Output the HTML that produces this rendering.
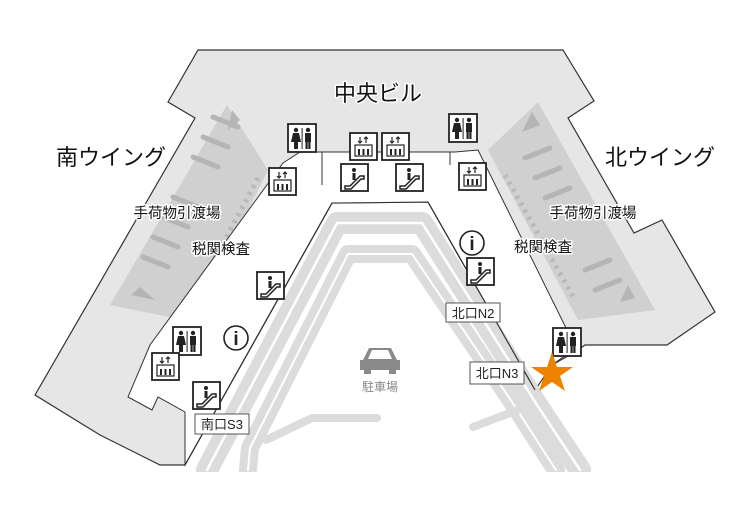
<!DOCTYPE html>
<html><head><meta charset="utf-8"><style>
html,body{margin:0;padding:0;background:#fff;}
svg{display:block;}
text{font-family:"Liberation Sans","Noto Sans CJK JP",sans-serif;}
</style></head><body>
<svg width="750" height="525" viewBox="0 0 750 525" xmlns="http://www.w3.org/2000/svg">
<defs>
<g id="toilet">
<rect x="0" y="0" width="28" height="28" fill="#fff" stroke="#222" stroke-width="1.8"/>
<circle cx="8" cy="6" r="2.2" fill="#222"/><path d="M5,9 h6 l2,9 h-3 v7 h-4 v-7 h-3z" fill="#222"/>
<rect x="13.6" y="4" width="1" height="21" fill="#222"/>
<circle cx="20" cy="6" r="2.2" fill="#222"/><rect x="17" y="9" width="6" height="9" fill="#222"/><rect x="17.5" y="17" width="2.2" height="8" fill="#222"/><rect x="20.3" y="17" width="2.2" height="8" fill="#222"/>
</g>
<g id="elev">
<rect x="0" y="0" width="27" height="27" fill="#fff" stroke="#222" stroke-width="1.8"/>
<path d="M10,4 v6 M8,8 l2,2 l2,-2 M16,10 v-6 M14,6 l2,-2 l2,2" stroke="#222" stroke-width="1.2" fill="none"/>
<rect x="5" y="12" width="17" height="11" fill="none" stroke="#222" stroke-width="1.2"/>
<rect x="8" y="16" width="2" height="6" fill="#222"/><rect x="12.5" y="16" width="2" height="6" fill="#222"/><rect x="17" y="16" width="2" height="6" fill="#222"/>
</g>
<g id="esc">
<rect x="0" y="0" width="27" height="27" fill="#fff" stroke="#222" stroke-width="1.8"/>
<path d="M4,22 h5 l10,-10 h4 v3 h-3 l-10,10 h-6z" fill="none" stroke="#222" stroke-width="1.5"/>
<circle cx="13" cy="6" r="2" fill="#222"/><rect x="11.5" y="9" width="3" height="7" fill="#222"/>
</g>
<g id="info"><circle cx="0" cy="0" r="12" fill="#fff" stroke="#222" stroke-width="1.6"/><text x="0" y="7" font-size="19" font-weight="bold" text-anchor="middle" font-family="Liberation Serif,serif" fill="#222">i</text></g>
</defs>

<!-- building -->
<polygon points="198,50 563,50 594,101 568,118 634,233 662,220 715,312 667,345 585,345 575,352 552,365 535,390 428,202 332,203 185,465 160,465 100,435 35,395 195,118 168,102" fill="#e6e6e6" stroke="#333" stroke-width="1.2"/>
<polygon points="227,105 268,170 193,322 110,305" fill="#d0d0d0"/>
<polygon points="538,102 655,310 578,320 488,150" fill="#d0d0d0"/>
<g stroke="#b5b5b5" stroke-width="5" stroke-linecap="round">
<line x1="213" y1="117" x2="238" y2="127"/><line x1="203" y1="137" x2="228" y2="147"/><line x1="193" y1="157" x2="218" y2="167"/>
<line x1="173" y1="197" x2="198" y2="207"/><line x1="163" y1="217" x2="188" y2="227"/><line x1="153" y1="237" x2="178" y2="247"/><line x1="143" y1="257" x2="168" y2="267"/>
<line x1="525" y1="158" x2="550" y2="148"/><line x1="535" y1="178" x2="560" y2="168"/><line x1="545" y1="198" x2="570" y2="188"/>
<line x1="585" y1="270" x2="610" y2="260"/><line x1="595" y1="290" x2="620" y2="280"/>
</g>
<g stroke="#b8b8b8" stroke-width="5" stroke-dasharray="3,5" fill="none">
<line x1="258" y1="178" x2="190" y2="305"/>
<line x1="505" y1="175" x2="575" y2="300"/>
</g>
<polygon points="228,130 240,120 232,110" fill="#b5b5b5"/>
<polygon points="131,295 155,300 140,287" fill="#b5b5b5"/>
<polygon points="522,132 532,112 540,125" fill="#b5b5b5"/>
<polygon points="620,302 635,298 628,285" fill="#b5b5b5"/>
<!-- white corridor -->
<polygon points="283,163 300,152 455,152 478,150 567,330 580,345 552,365 535,390 428,202 332,203 185,465 185,412 158,397 152,410 128,397 150,345" fill="#fff" stroke="#333" stroke-width="1"/>
<line x1="322" y1="152" x2="322" y2="185" stroke="#333" stroke-width="1"/>
<line x1="450" y1="152" x2="450" y2="165" stroke="#333" stroke-width="1"/>

<!-- roads -->
<g fill="none" stroke-linejoin="round" stroke-linecap="round">
<path d="M207,470 L337,223 L422,223 L537,405 L580,470" stroke="#dcdcdc" stroke-width="22"/>
<path d="M207,470 L337,223 L422,223 L537,405 L580,470" stroke="#fff" stroke-width="2.5"/>
<path d="M248,470 L250,448 L348,254 L412,254 L512,402 L556,470" stroke="#dcdcdc" stroke-width="18"/>
<path d="M248,470 L250,448 L348,254 L412,254 L512,402 L556,470" stroke="#fff" stroke-width="2"/>
<path d="M266,440 L312,418 L377,418" stroke="#dcdcdc" stroke-width="8"/>
<path d="M473,427 L523,408" stroke="#dcdcdc" stroke-width="8"/>
</g>
<rect x="180" y="472" width="420" height="53" fill="#fff"/>
<line x1="428" y1="202" x2="535" y2="390" stroke="#333" stroke-width="1.2"/>
<line x1="332" y1="203" x2="185" y2="465" stroke="#333" stroke-width="1.2"/>

<!-- car -->
<g fill="#8a8a8a"><path d="M363,360 l6,-12 h22 l6,12 h3 v10 h-40 v-10z"/><rect x="364" y="368" width="7" height="6"/><rect x="389" y="368" width="7" height="6"/></g>
<path d="M372,350 h16 l4,9 h-24z" fill="#fff"/>
<text x="380" y="391" font-size="12" fill="#888" text-anchor="middle">駐車場</text>

<!-- icons -->
<use href="#toilet" x="288" y="124"/>
<use href="#toilet" x="449" y="114"/>
<use href="#toilet" x="173" y="327"/>
<use href="#toilet" x="553" y="328"/>
<use href="#elev" x="350" y="133"/>
<use href="#elev" x="382" y="133"/>
<use href="#elev" x="269" y="168"/>
<use href="#elev" x="459" y="163"/>
<use href="#elev" x="152" y="353"/>
<use href="#esc" x="341" y="164"/>
<use href="#esc" x="396" y="164"/>
<use href="#esc" x="257" y="272"/>
<use href="#esc" x="193" y="382"/>
<use href="#esc" x="467" y="258"/>
<use href="#info" x="472" y="243"/>
<use href="#info" x="236" y="338"/>

<g font-size="13" fill="#222">
<rect x="446" y="303" width="54" height="19" fill="#fff" stroke="#555"/><text x="473" y="318" text-anchor="middle">北口N2</text>
<rect x="470" y="362" width="54" height="22" fill="#fff" stroke="#555"/><text x="497" y="378" text-anchor="middle">北口N3</text>
<rect x="195" y="414" width="54" height="20" fill="#fff" stroke="#555"/><text x="222" y="429" text-anchor="middle">南口S3</text>
</g>

<polygon points="552,352 557,367 573,367 560,376 565,391 552,382 539,391 544,376 531,367 547,367" fill="#ee8300"/>

<g fill="#111" stroke="#fff" stroke-width="3" paint-order="stroke" stroke-linejoin="round">
<text x="378" y="101" font-size="22" text-anchor="middle">中央ビル</text>
<text x="111" y="165" font-size="22" text-anchor="middle">南ウイング</text>
<text x="660" y="165" font-size="22" text-anchor="middle">北ウイング</text>
<text x="177" y="218" font-size="14.5" text-anchor="middle">手荷物引渡場</text>
<text x="221" y="254" font-size="14.5" text-anchor="middle">税関検査</text>
<text x="593" y="218" font-size="14.5" text-anchor="middle">手荷物引渡場</text>
<text x="543" y="252" font-size="14.5" text-anchor="middle">税関検査</text>
</g>
</svg>
</body></html>
